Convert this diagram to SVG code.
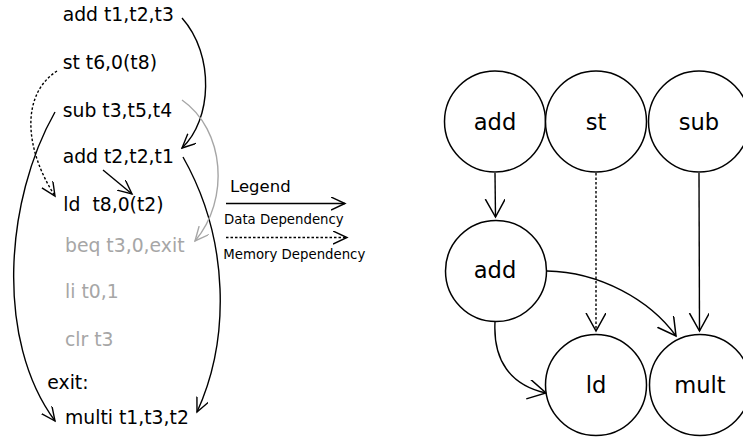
<svg xmlns="http://www.w3.org/2000/svg" width="743" height="440" viewBox="0 0 743 440">
<style>
text{font-family:"DejaVu Sans","Liberation Sans",sans-serif;fill:#000}
.code{font-size:18.8px}
.gray{fill:#a6a6a6}
.lg{font-size:13.3px}
.node circle{fill:#fff;stroke:#000;stroke-width:1.5}
.node text{font-size:22.6px;text-anchor:middle}
.e{fill:none;stroke:#000;stroke-width:1.4}
.g{stroke:#a6a6a6}
.d{stroke-dasharray:2.5,2}
</style>
<defs>
<marker id="as" markerUnits="userSpaceOnUse" markerWidth="16" markerHeight="14" refX="14" refY="6.5" orient="auto" viewBox="0 0 16 14">
<path d="M0,0 L14,6.5 L0,13" fill="none" stroke="#000" stroke-width="1.4"/>
</marker>
<marker id="asg" markerUnits="userSpaceOnUse" markerWidth="16" markerHeight="14" refX="14" refY="6.5" orient="auto" viewBox="0 0 16 14">
<path d="M0,0 L14,6.5 L0,13" fill="none" stroke="#a6a6a6" stroke-width="1.4"/>
</marker>
<marker id="al" markerUnits="userSpaceOnUse" markerWidth="20" markerHeight="22" refX="18" refY="10" orient="auto" viewBox="0 0 20 22">
<path d="M0,0 L18,10 L0,20" fill="none" stroke="#000" stroke-width="1.5"/>
</marker>
</defs>

<g id="code">
<text class="code" x="62.7" y="20.7">add t1,t2,t3</text>
<text class="code" x="62.7" y="69.3">st t6,0(t8)</text>
<text class="code" x="62.7" y="116.5">sub t3,t5,t4</text>
<text class="code" x="62.7" y="163.3">add t2,t2,t1</text>
<text class="code" x="63.3" y="210.7" xml:space="preserve">ld  t8,0(t2)</text>
<text class="code gray" x="65" y="252.3">beq t3,0,exit</text>
<text class="code gray" x="65" y="298.3">li t0,1</text>
<text class="code gray" x="65" y="345.7">clr t3</text>
<text class="code" x="47.3" y="389">exit:</text>
<text class="code" x="65" y="424">multi t1,t3,t2</text>
</g>

<g id="legend">
<text x="230" y="191.7" style="font-size:16.5px">Legend</text>
<line class="e" x1="226" y1="203.5" x2="345" y2="203.5" marker-end="url(#as)"/>
<text class="lg" x="224" y="224">Data Dependency</text>
<line class="e d" x1="226" y1="237.5" x2="347" y2="237.5" marker-end="url(#as)"/>
<text class="lg" x="223.3" y="259.3">Memory Dependency</text>
</g>

<g id="connectors">
<path class="e" d="M182,18 C215,55 212,120 182,148" marker-end="url(#as)"/>
<path class="e d" d="M57,71 C20,95 25,150 55,196" marker-end="url(#as)"/>
<path class="e" d="M55,112 C5,200 -5,340 55,421" marker-end="url(#as)"/>
<path class="e" d="M183,157 C230,240 230,340 197,412" marker-end="url(#as)"/>
<path class="e" d="M103,170 L132,194" marker-end="url(#as)"/>
<path class="e g" d="M182,100 C225,130 230,200 195,241" marker-end="url(#asg)"/>

<path class="e" d="M495,173 L495.5,217" marker-end="url(#al)"/>
<path class="e d" d="M596,173 L596,331" marker-end="url(#al)"/>
<path class="e" d="M699,173 L699.5,331" marker-end="url(#al)"/>
<path class="e" d="M547,271 C600,272 650,300 676,336" marker-end="url(#al)"/>
<path class="e" d="M495,322 C493,360 510,385 546,393" marker-end="url(#al)"/>
</g>

<g id="n_add1" class="node"><circle cx="495" cy="121.5" r="50.5"/><text x="495" y="130">add</text></g>
<g id="n_st" class="node"><circle cx="596" cy="121.5" r="50.5"/><text x="596" y="129.5">st</text></g>
<g id="n_sub" class="node"><circle cx="699" cy="121.5" r="50.5"/><text x="699" y="129.5">sub</text></g>
<g id="n_add2" class="node"><circle cx="496" cy="271" r="50.5"/><text x="495" y="278.3">add</text></g>
<g id="n_ld" class="node"><circle cx="596" cy="385" r="50.5"/><text x="596" y="393.3">ld</text></g>
<g id="n_mult" class="node"><circle cx="700" cy="385" r="50.5"/><text x="700" y="393.3">mult</text></g>
</svg>
